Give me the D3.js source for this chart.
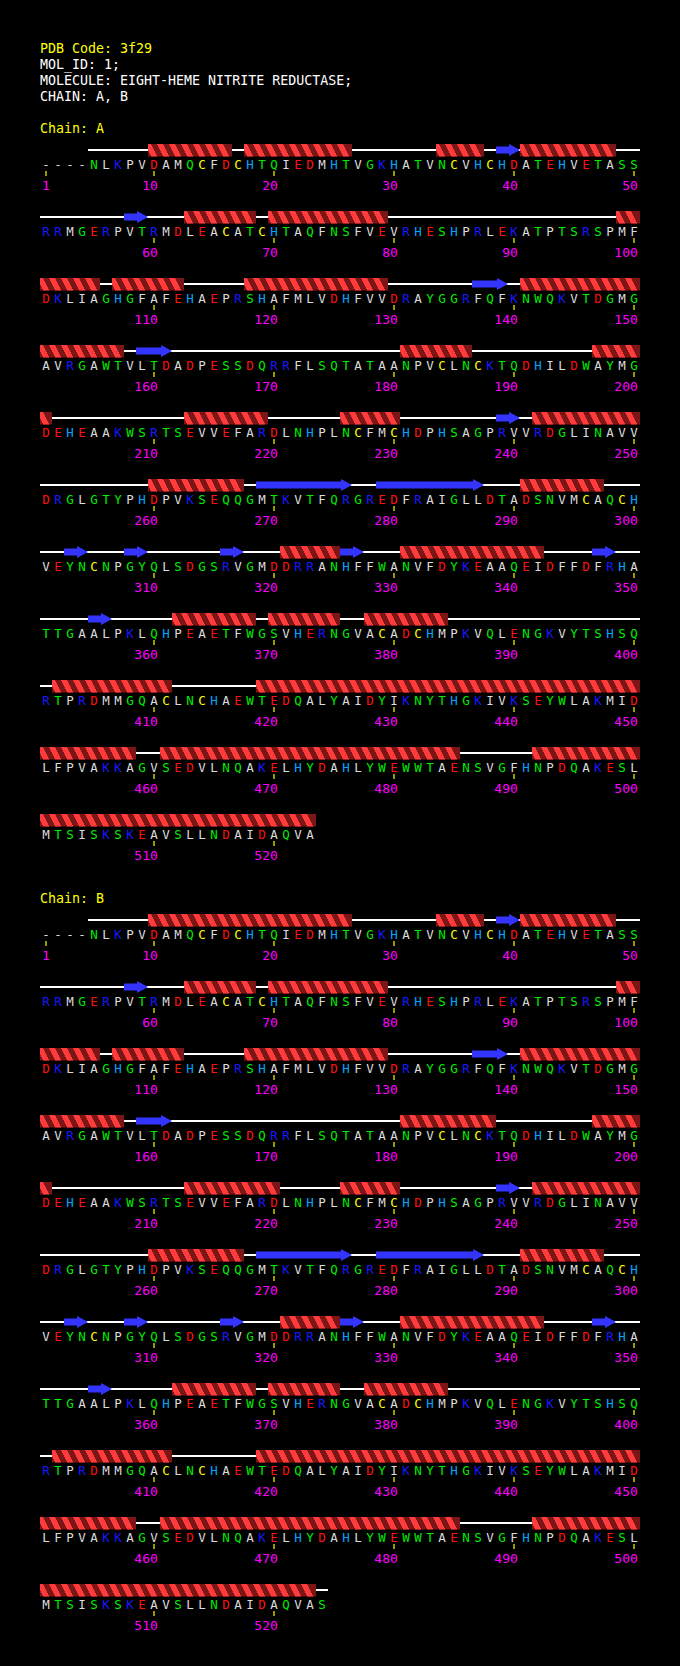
<!DOCTYPE html>
<html>
<head>
<meta charset="utf-8">
<script src="https://cdn.jsdelivr.net/npm/d3@7"></script>
<style>
  body { margin: 0; background: #000; }
  svg { display: block; background: #000; }
  text { font-family: "DejaVu Sans Mono", "Liberation Mono", monospace; }
</style>
</head>
<body>
<script>
// Header lines of the PDB entry
const headerLines = [
    "PDB Code: 3f29",
    "MOL_ID: 1;",
    "MOLECULE: EIGHT-HEME NITRITE REDUCTASE;",
    "CHAIN: A, B"
];

const chainNames = ["A", "B"];

// Sequences, 50 residues per row, '-' = not observed
const seqRowsA = [
    "----NLKPVDAMQCFDCHTQIEDMHTVGKHATVNCVHCHDATEHVETASS",
    "RRMGERPVTRMDLEACATCHTAQFNSFVEVRHESHPRLEKATPTSRSPMF",
    "DKLIAGHGFAFEHAEPRSHAFMLVDHFVVDRAYGGRFQFKNWQKVTDGMG",
    "AVRGAWTVLTDADPESSDQRRFLSQTATAANPVCLNCKTQDHILDWAYMG",
    "DEHEAAKWSRTSEVVEFARDLNHPLNCFMCHDPHSAGPRVVRDGLINAVV",
    "DRGLGTYPHDPVKSEQQGMTKVTFQRGREDFRAIGLLDTADSNVMCAQCH",
    "VEYNCNPGYQLSDGSRVGMDDRRANHFFWANVFDYKEAAQEIDFFDFRHA",
    "TTGAALPKLQHPEAETFWGSVHERNGVACADCHMPKVQLENGKVYTSHSQ",
    "RTPRDMMGQACLNCHAEWTEDQALYAIDYIKNYTHGKIVKSEYWLAKMID",
    "LFPVAKKAGVSEDVLNQAKELHYDAHLYWEWWTAENSVGFHNPDQAKESL",
    "MTSISKSKEAVSLLNDAIDAQVA"
];
const seqRowsB = [
    "----NLKPVDAMQCFDCHTQIEDMHTVGKHATVNCVHCHDATEHVETASS",
    "RRMGERPVTRMDLEACATCHTAQFNSFVEVRHESHPRLEKATPTSRSPMF",
    "DKLIAGHGFAFEHAEPRSHAFMLVDHFVVDRAYGGRFQFKNWQKVTDGMG",
    "AVRGAWTVLTDADPESSDQRRFLSQTATAANPVCLNCKTQDHILDWAYMG",
    "DEHEAAKWSRTSEVVEFARDLNHPLNCFMCHDPHSAGPRVVRDGLINAVV",
    "DRGLGTYPHDPVKSEQQGMTKVTFQRGREDFRAIGLLDTADSNVMCAQCH",
    "VEYNCNPGYQLSDGSRVGMDDRRANHFFWANVFDYKEAAQEIDFFDFRHA",
    "TTGAALPKLQHPEAETFWGSVHERNGVACADCHMPKVQLENGKVYTSHSQ",
    "RTPRDMMGQACLNCHAEWTEDQALYAIDYIKNYTHGKIVKSEYWLAKMID",
    "LFPVAKKAGVSEDVLNQAKELHYDAHLYWEWWTAENSVGFHNPDQAKESL",
    "MTSISKSKEAVSLLNDAIDAQVAS"
];

// Secondary structure, residue ranges [first, last]
const helixA = [
    [10, 16], [18, 26], [34, 37], [41, 48], [63, 68], [70, 79], [99, 105],
    [107, 112], [118, 129], [141, 157], [181, 186], [197, 201], [213, 219],
    [226, 230], [242, 250], [260, 267], [291, 297], [321, 325], [331, 342],
    [362, 368], [370, 375], [378, 384], [402, 411], [419, 458], [461, 485],
    [492, 523]
];
const strandA = [
    [39, 40], [58, 59], [137, 139], [159, 161], [239, 240], [269, 276],
    [279, 287], [303, 304], [308, 309], [316, 317], [326, 327], [347, 348],
    [355, 356]
];
const helixB = [
    [10, 26], [34, 37], [41, 48], [63, 68], [70, 79], [99, 105],
    [107, 112], [118, 129], [141, 157], [181, 188], [197, 201], [213, 220],
    [226, 230], [242, 250], [260, 267], [291, 297], [321, 325], [331, 342],
    [362, 368], [370, 375], [378, 384], [402, 411], [419, 458], [461, 485],
    [492, 523]
];
const strandB = [
    [39, 40], [58, 59], [137, 139], [159, 161], [239, 240], [269, 276],
    [279, 287], [303, 304], [308, 309], [316, 317], [326, 327], [347, 348],
    [355, 356]
];

// Residue colour groups
const residueColor = r => {
    if ("DE".includes(r)) return "#ff1010";
    if ("KR".includes(r)) return "#1818ff";
    if (r === "H") return "#00a8ff";
    if (r === "C") return "#ffff00";
    if ("NQSTGYW".includes(r)) return "#00ee00";
    return "#dcdcdc";
};

const W = 680, H = 1666;
const perRow = 50;
const rowStep = 67;
const chainTop = [150, 920];   // centre of first secondary structure band

const svg = d3.select("body").append("svg")
    .attr("width", W)
    .attr("height", H);
const defs = svg.append("defs");

// header
svg.append("g").selectAll("text")
    .data(headerLines)
    .join("text")
    .attr("x", 40)
    .attr("y", (d, i) => 53 + i * 16)
    .attr("font-size", 13.3)
    .attr("fill", (d, i) => i === 0 ? "#ffff00" : "#ffffff")
    .attr("xml:space", "preserve")
    .text(d => d);

const rowY = d3.scaleLinear().domain([0, 1]).range([0, rowStep]);

let clipId = 0;

function drawChain(ci, rows, helices, strands) {
    const seq = rows.join("");
    const lastRes = seq.length;
    const firstObs = seq.search(/[^-]/) + 1;
    const top = chainTop[ci];

    svg.append("text")
        .attr("x", 40)
        .attr("y", top - 17)
        .attr("font-size", 13.3)
        .attr("fill", "#ffff00")
        .text("Chain: " + chainNames[ci]);

    rows.forEach((rowSeq, r) => {
        const start = r * perRow + 1;
        const end = Math.min(start + perRow - 1, lastRes);
        const ss = top + rowY(r);
        const x = d3.scaleBand()
            .domain(d3.range(start, start + perRow))
            .range([40, 640]);
        const bw = x.bandwidth();
        const g = svg.append("g");

        // coil line under everything
        const c0 = Math.max(start, firstObs);
        if (c0 <= end) {
            g.append("rect")
                .attr("x", x(c0))
                .attr("y", ss - 1)
                .attr("width", x(end) + bw - x(c0))
                .attr("height", 2)
                .attr("fill", "#ffffff")
                .attr("shape-rendering", "crispEdges");
        }

        const pieces = list => list
            .map(([a, b]) => [Math.max(a, start), Math.min(b, end)])
            .filter(([a, b]) => a <= b);

        // helices: dark band with one bright slanted stripe per residue
        pieces(helices).forEach(([a, b]) => {
            const x0 = x(a), x1 = x(b) + bw;
            const id = "hc" + (clipId++);
            defs.append("clipPath").attr("id", id)
                .append("rect")
                .attr("x", x0).attr("y", ss - 6)
                .attr("width", x1 - x0).attr("height", 12.5);
            const hg = g.append("g")
                .attr("clip-path", `url(#${id})`)
                .attr("shape-rendering", "crispEdges");
            hg.append("rect")
                .attr("x", x0).attr("y", ss - 6)
                .attr("width", x1 - x0).attr("height", 12.5)
                .attr("fill", "#7c1515");
            hg.selectAll("polygon")
                .data(d3.range(a, b + 1))
                .join("polygon")
                .attr("fill", "#ff3b3b")
                .attr("points", n => {
                    const cx = x(n);
                    return [[cx - 3, ss - 6], [cx + 3, ss - 6],
                            [cx + 9, ss + 6.5], [cx + 3, ss + 6.5]].join(" ");
                });
        });

        // strands
        pieces(strands).forEach(([a, b]) => {
            const x0 = x(a), x1 = x(b) + bw;
            const head = 11;
            g.append("path")
                .attr("fill", "#3434ff")
                .attr("d", `M${x0},${ss - 3.5} L${x1 - head},${ss - 3.5} L${x1 - head},${ss - 6}
                    L${x1},${ss} L${x1 - head},${ss + 6} L${x1 - head},${ss + 3.5}
                    L${x0},${ss + 3.5} Z`);
        });

        // residue letters
        g.append("g").selectAll("text")
            .data(rowSeq.split("").map((c, i) => ({ c, n: start + i })))
            .join("text")
            .attr("x", d => x(d.n) + bw / 2)
            .attr("y", ss + 18.5)
            .attr("text-anchor", "middle")
            .attr("font-size", 12.5)
            .attr("fill", d => d.c === "-" ? "#dcdcdc" : residueColor(d.c))
            .text(d => d.c);

        // numbering axis
        const ticks = d3.range(start, end + 1).filter(n => n === 1 || n % 10 === 0);
        const axis = g.append("g")
            .attr("transform", `translate(0,${ss + 21})`)
            .call(d3.axisBottom(x).tickValues(ticks).tickSize(5).tickSizeOuter(0));
        axis.select(".domain").remove();
        axis.selectAll(".tick line")
            .attr("stroke", "#ffff00")
            .attr("stroke-width", 1.2);
        axis.selectAll(".tick text")
            .attr("y", 19)
            .attr("dy", 0)
            .attr("dx", 3.8)
            .attr("text-anchor", "end")
            .attr("font-size", 13)
            .attr("font-family", "DejaVu Sans Mono, monospace")
            .attr("fill", "#ff00ff");
    });
}

drawChain(0, seqRowsA, helixA, strandA);
drawChain(1, seqRowsB, helixB, strandB);
</script>
</body>
</html>
